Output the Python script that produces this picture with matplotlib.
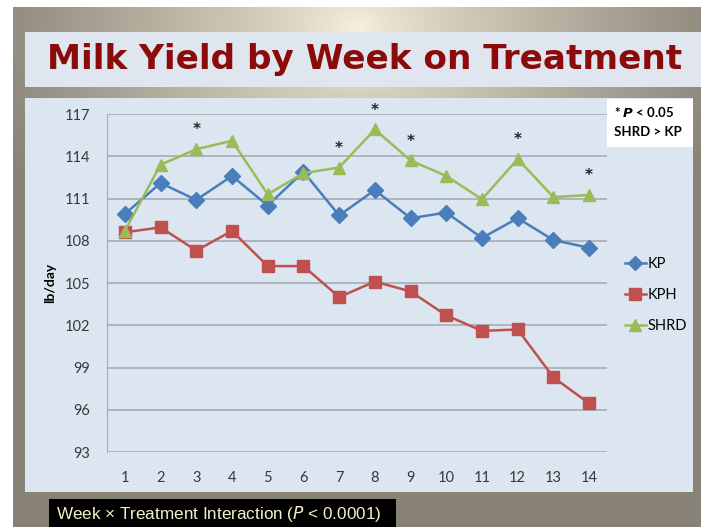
import numpy as np
import matplotlib
matplotlib.use("Agg")
import matplotlib.pyplot as plt
from matplotlib.patches import Rectangle

# Milk yield (lb/day)
weeks = list(range(1, 15))
kp = [109.9, 112.1, 110.9, 112.6, 110.5, 112.9, 109.8, 111.6, 109.6, 110.0, 108.2, 109.6, 108.05, 107.5]
kph = [108.6, 108.95, 107.3, 108.7, 106.2, 106.2, 104.0, 105.1, 104.4, 102.7, 101.6, 101.7, 98.3, 96.45]
shrd = [108.7, 113.4, 114.5, 115.1, 111.3, 112.8, 113.2, 115.9, 113.7, 112.6, 110.95, 113.8, 111.1, 111.25]
sig_weeks = [3, 7, 8, 9, 12, 14]
y_ticks = [93, 96, 99, 102, 105, 108, 111, 114, 117]

W, H = 701, 527
fig = plt.figure(figsize=(W / 100, H / 100), dpi=100, facecolor="white")

# slide background: light centre fading to grey-brown edges (white margin top/left)
bg = fig.add_axes([0, 0, 1, 1], zorder=-10)
yy, xx = np.mgrid[0:H, 0:W]
d = np.sqrt(((xx - 350) / 400.0) ** 2 + ((yy - 20) / 300.0) ** 2)
d = np.clip(d, 0, 1) ** 0.8
light = np.array([0.97, 0.95, 0.87])
dark = np.array([0.53, 0.51, 0.46])
img = light[None, None, :] * (1 - d[..., None]) + dark[None, None, :] * d[..., None]
bg.set_facecolor("white")
bg.imshow(img, extent=[13, W, H, 7], aspect="auto")
bg.set_xlim(0, W)
bg.set_ylim(H, 0)
bg.axis("off")

# title band
bg.add_patch(Rectangle((25, 32), 676, 55, facecolor="#dfe6ef", edgecolor="none"))
bg.text(365, 59, "Milk Yield by Week on Treatment", color="#8b0a0a",
        fontsize=24.7, fontweight="bold", ha="center", va="center", family="DejaVu Sans")

# chart panel
bg.add_patch(Rectangle((25, 98), 668, 394, facecolor="#dce6f1", edgecolor="none"))

# note box
bg.add_patch(Rectangle((607, 99), 86, 48, facecolor="white", edgecolor="none"))
bg.text(614, 112, r"* $\bfit{P}$ < 0.05", fontsize=9.5, fontweight="bold", va="center", family="Lato")
bg.text(614, 132, "SHRD > KP", fontsize=9.5, fontweight="bold", va="center", family="Lato")

# bottom caption
bg.add_patch(Rectangle((49, 499), 347, 28, facecolor="black", edgecolor="none"))
bg.text(56, 514, r"Week × Treatment Interaction ($\it{P}$ < 0.0001)", color="#f3f0c8",
        fontsize=12.3, va="center", family="Liberation Sans")

ax = fig.add_axes([107 / W, 1 - 452 / H, 500 / W, 338 / H])
ax.set_facecolor("none")
ax.plot(weeks, kp, color="#4a7ebb", lw=1.8, marker="D", ms=8, label="KP")
ax.plot(weeks, kph, color="#c0504d", lw=1.8, marker="s", ms=9, label="KPH")
ax.plot(weeks, shrd, color="#9bbb59", lw=1.8, marker="^", ms=9, label="SHRD")

for w in sig_weeks:
    ax.annotate("*", (w, shrd[w - 1]), xytext=(0, 14), textcoords="offset points",
                ha="center", va="center", fontsize=11, fontweight="bold", color="#222222")

ax.set_xlim(0.5, 14.5)
ax.set_ylim(93, 117)
ax.set_xticks(weeks)
ax.set_yticks(y_ticks)
ax.grid(axis="y", color="#a6acb3", lw=1.2)
ax.set_axisbelow(True)
for s in ["top", "right", "bottom"]:
    ax.spines[s].set_visible(False)
ax.spines["left"].set_color("#a6acb3")
ax.tick_params(length=0, labelsize=10.5, colors="#383838", pad=14)
ax.tick_params(axis="y", pad=12)
for lab in ax.get_xticklabels() + ax.get_yticklabels():
    lab.set_family("Lato")
ax.set_ylabel("lb/day", fontsize=10, fontweight="bold", family="Lato", labelpad=6)

leg = ax.legend(loc="center left", bbox_to_anchor=(1.01, 0.464), frameon=False,
                handlelength=1.4, handletextpad=0.15, labelspacing=1.15, markerscale=0.9,
                prop={"family": "Lato", "size": 10.5})

fig.savefig("out.png", dpi=100, facecolor="white")
